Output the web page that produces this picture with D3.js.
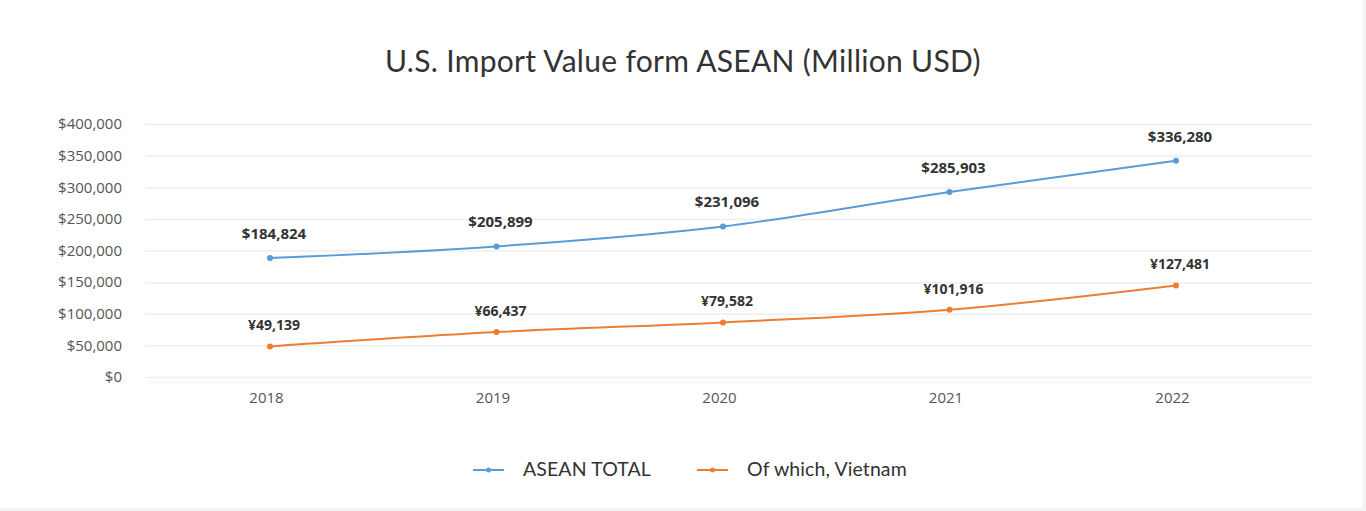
<!DOCTYPE html>
<html>
<head>
  <title>U.S. Import Value form ASEAN</title>
  <style>
    html, body { margin: 0; padding: 0; background: #fff; }
    svg { display: block; }
    .tick text { font-family: "Open Sans", sans-serif; font-size: 15px; fill: #555; }
    .val { font-family: "Open Sans", sans-serif; font-weight: 700; fill: #333; }
  </style>
</head>
<body>
  <script src="https://d3js.org/d3.v7.min.js"></script>
  <script>
// chart data
const years = ["2018", "2019", "2020", "2021", "2022"];
const aseanTotal = [188000, 206500, 238000, 292500, 342000];
const vietnam = [48400, 71000, 86300, 106400, 144800];
const aseanLabels = ["$184,824", "$205,899", "$231,096", "$285,903", "$336,280"];
const vietnamLabels = ["¥49,139", "¥66,437", "¥79,582", "¥101,916", "¥127,481"];
const yTicks = [0, 50000, 100000, 150000, 200000, 250000, 300000, 350000, 400000];

const width = 1366, height = 511;
const plotLeft = 145, plotRight = 1312, plotTop = 124, plotBottom = 377;

const svg = d3.select("body").append("svg")
  .attr("width", width)
  .attr("height", height);

// faint edge at right / bottom
svg.append("path")
  .attr("d", `M${width - 1.5},0V${height - 1.5}H0`)
  .attr("fill", "none").attr("stroke", "#f4f4f4").attr("stroke-width", 3);

const x = d3.scalePoint().domain(years).range([270, 1176]);
const y = d3.scaleLinear().domain([0, 400000]).range([plotBottom, plotTop]);

// title
svg.append("text")
  .attr("x", 683).attr("y", 72)
  .attr("text-anchor", "middle")
  .attr("font-family", "Lato, sans-serif")
  .attr("font-size", 30)
  .attr("letter-spacing", 0.3)
  .attr("fill", "#333")
  .text("U.S. Import Value form ASEAN (Million USD)");

// y axis + grid
const yAxis = d3.axisLeft(y)
  .tickValues(yTicks)
  .tickSize(-(plotRight - plotLeft))
  .tickFormat(d => "$" + d3.format(",")(d));

svg.append("g")
  .attr("transform", `translate(${plotLeft},0)`)
  .call(yAxis)
  .call(g => g.select(".domain").remove())
  .call(g => g.selectAll(".tick line").attr("stroke", "#eeeeee").attr("stroke-width", 1.5))
  .call(g => g.selectAll(".tick text").attr("x", -23));

// x axis baseline + labels
svg.append("line")
  .attr("x1", plotLeft + 5).attr("x2", plotRight)
  .attr("y1", plotBottom + 5).attr("y2", plotBottom + 5)
  .attr("stroke", "#f3f3f3");

const xAxis = d3.axisBottom(x).tickSize(0).tickPadding(14);
svg.append("g")
  .attr("transform", `translate(-4,${plotBottom + 1})`)
  .call(xAxis)
  .call(g => g.select(".domain").remove());

// series
const series = [
  { name: "ASEAN TOTAL", values: aseanTotal, labels: aseanLabels, color: "#5b9bd5", size: 15, gap: 19 },
  { name: "Of which, Vietnam", values: vietnam, labels: vietnamLabels, color: "#ed7d31", size: 14, gap: 16 }
];

const line = d3.line()
  .x((d, i) => x(years[i]))
  .y(d => y(d))
  .curve(d3.curveMonotoneX);

series.forEach(s => {
  svg.append("path")
    .datum(s.values)
    .attr("d", line)
    .attr("fill", "none")
    .attr("stroke", s.color)
    .attr("stroke-width", 2);

  svg.selectAll(null)
    .data(s.values)
    .enter().append("circle")
    .attr("cx", (d, i) => x(years[i]))
    .attr("cy", d => y(d))
    .attr("r", 3)
    .attr("fill", s.color);

  svg.selectAll(null)
    .data(s.values)
    .enter().append("text")
    .attr("class", "val")
    .attr("x", (d, i) => x(years[i]) + 4)
    .attr("y", d => y(d) - s.gap)
    .attr("text-anchor", "middle")
    .attr("font-size", s.size)
    .text((d, i) => s.labels[i]);
});

// legend
const legend = svg.append("g").attr("transform", "translate(473,470)");
const legendX = [0, 224];
series.forEach((s, i) => {
  const g = legend.append("g").attr("transform", `translate(${legendX[i]},0)`);
  g.append("line")
    .attr("x1", 0).attr("x2", 31)
    .attr("stroke", s.color).attr("stroke-width", 2);
  g.append("circle").attr("cx", 15.5).attr("r", 2.5).attr("fill", s.color);
  g.append("text")
    .attr("x", 50).attr("y", 6)
    .attr("font-family", "Lato, sans-serif")
    .attr("font-size", 19.5)
    .attr("letter-spacing", 0.1)
    .attr("fill", "#333")
    .text(s.name);
});
  </script>
</body>
</html>
